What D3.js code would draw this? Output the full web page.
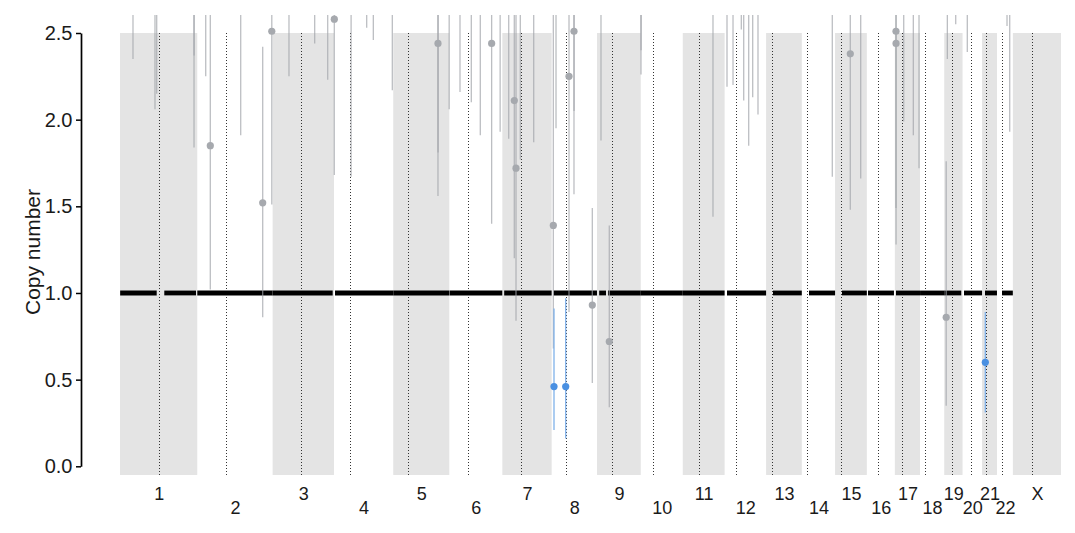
<!DOCTYPE html>
<html>
<head>
<meta charset="utf-8">
<script src="https://cdn.jsdelivr.net/npm/d3@7"></script>
<style>
  html, body { margin: 0; padding: 0; background: #fff; }
  svg { display: block; font-family: "Liberation Sans", Arial, Helvetica, sans-serif; }
</style>
</head>
<body>
<svg id="chart" width="1075" height="533"></svg>
<script>
// ---------- data ----------
const chromNames = ["1","2","3","4","5","6","7","8","9","10","11","12","13","14","15","16","17","18","19","20","21","22","X"];
const chromLengths = [249.25,243.2,198.0,191.15,180.9,171.1,159.1,146.4,141.2,135.5,135.0,133.85,115.2,107.35,102.5,90.35,81.2,78.1,59.1,63.0,48.1,51.3,155.3];
const centromeres = [125.0,93.3,91.0,50.4,48.4,61.0,59.9,45.6,49.0,40.2,53.7,35.8,17.9,17.6,19.0,36.6,24.0,17.2,26.5,27.5,13.2,14.7,60.6];
const yTicks = [0, 0.5, 1.0, 1.5, 2.0, 2.5];

// segments: [chrom, start Mb, end Mb, copy number]
const segments = [
  ["1", 0.5, 118.4, 1.0], ["1", 142.9, 245.2, 1.0],
  ["2", 0.1, 243.2, 1.0], ["3", 0.1, 193.8, 1.0],
  ["4", 3.3, 191.1, 1.0], ["5", 0.1, 180.9, 1.0],
  ["6", 1.0, 171.0, 1.0], ["7", 6.0, 159.1, 1.0],
  ["8", 6.0, 146.3, 1.0], ["9", 7.0, 29.0, 1.0], ["9", 35.4, 141.2, 1.0],
  ["10", 0.1, 135.5, 1.0], ["11", 0.1, 135.0, 1.0],
  ["12", 7.7, 133.85, 1.0], ["13", 22.3, 115.2, 1.0],
  ["14", 23.2, 107.35, 1.0], ["15", 22.4, 102.5, 1.0],
  ["16", 3.7, 87.5, 1.0], ["17", 3.7, 81.2, 1.0], ["18", 0.1, 78.1, 1.0],
  ["19", 0.1, 55.0, 1.0], ["20", 4.7, 63.0, 1.0],
  ["21", 9.5, 48.1, 1.0], ["22", 16.2, 51.2, 1.0]
];

// bins: [chrom, position Mb, copy number, lower, upper, call (0 neutral, 1 loss)]
const bins = [
  ["1", 41.9, 2.91, 2.35, 3.5, 0], ["1", 112.9, 3.05, 2.06, 3.9, 0],
  ["1", 118.4, 2.86, 2.15, 3.6, 0], ["1", 238.8, 3.12, 1.84, 4.0, 0],
  ["1", 239.0, 2.95, 2.37, 3.5, 0],
  ["2", 27.3, 2.98, 2.25, 3.7, 0], ["2", 42.1, 1.85, 1.02, 2.8, 0],
  ["2", 140.2, 2.83, 1.91, 3.8, 0], ["2", 211.2, 1.52, 0.86, 2.42, 0],
  ["2", 240.5, 2.51, 1.51, 3.6, 0],
  ["3", 52.8, 2.88, 2.25, 3.5, 0], ["3", 135.7, 2.79, 2.44, 3.2, 0],
  ["3", 177.7, 2.93, 2.23, 3.6, 0],
  ["4", 1.0, 2.58, 1.68, 3.5, 0], ["4", 55.2, 2.97, 1.67, 4.1, 0],
  ["4", 105.5, 2.75, 2.53, 3.0, 0], ["4", 126.9, 2.81, 2.46, 3.2, 0],
  ["4", 188.2, 3.02, 2.17, 3.9, 0],
  ["5", 144.4, 2.44, 1.56, 3.4, 0], ["5", 144.6, 2.9, 1.81, 3.9, 0],
  ["5", 180.5, 2.96, 2.06, 3.8, 0],
  ["6", 34.5, 2.87, 2.16, 3.6, 0], ["6", 71.0, 2.94, 2.10, 3.7, 0],
  ["6", 100.0, 3.0, 1.91, 4.0, 0], ["6", 136.6, 2.44, 1.40, 3.5, 0],
  ["6", 164.0, 2.99, 1.93, 3.9, 0],
  ["7", 20.6, 2.92, 1.89, 3.9, 0], ["7", 38.6, 2.11, 1.20, 3.1, 0],
  ["7", 44.1, 1.72, 0.84, 2.7, 0], ["7", 58.0, 2.96, 1.77, 4.0, 0],
  ["7", 101.2, 2.93, 1.87, 3.9, 0],
  ["8", 5.4, 1.39, 0.68, 2.8, 0], ["8", 14.1, 2.97, 1.95, 3.9, 0],
  ["8", 56.0, 2.25, 0.89, 3.4, 0], ["8", 72.1, 2.51, 1.57, 3.5, 0],
  ["8", 72.3, 2.9, 2.05, 3.8, 0], ["8", 131.2, 0.93, 0.48, 1.49, 0],
  ["9", 12.8, 2.98, 1.88, 4.0, 0], ["9", 39.6, 0.72, 0.34, 1.39, 0],
  ["10", 0.7, 3.05, 2.26, 3.8, 0], ["10", 0.9, 2.85, 2.40, 3.3, 0],
  ["11", 97.5, 3.1, 1.44, 4.5, 0],
  ["12", 7.7, 2.94, 2.19, 3.7, 0], ["12", 27.1, 2.91, 2.20, 3.6, 0],
  ["12", 53.9, 2.78, 2.52, 3.0, 0], ["12", 61.6, 2.96, 2.11, 3.8, 0],
  ["12", 77.7, 3.08, 1.85, 4.2, 0], ["12", 90.6, 2.9, 2.13, 3.7, 0],
  ["12", 107.7, 2.95, 2.03, 3.8, 0],
  ["14", 98.4, 2.99, 1.67, 4.2, 0],
  ["15", 49.1, 2.38, 1.48, 3.3, 0], ["15", 82.7, 2.97, 1.66, 4.1, 0],
  ["17", 3.7, 2.51, 1.49, 3.5, 0], ["17", 3.9, 2.44, 1.28, 3.6, 0],
  ["17", 28.6, 2.9, 1.99, 3.8, 0], ["17", 59.6, 2.96, 1.91, 3.9, 0],
  ["17", 78.0, 3.0, 1.72, 4.1, 0],
  ["19", 6.4, 0.86, 0.35, 1.76, 0], ["19", 10.1, 2.9, 2.35, 3.4, 0],
  ["19", 37.1, 2.8, 2.55, 3.0, 0],
  ["20", 15.4, 2.93, 2.39, 3.5, 0],
  ["22", 32.4, 2.82, 2.54, 3.1, 0], ["22", 41.1, 3.0, 1.93, 4.0, 0],
  // loss calls
  ["8", 7.6, 0.46, 0.21, 0.91, 1], ["8", 45.4, 0.46, 0.16, 0.97, 1],
  ["21", 10.5, 0.60, 0.31, 0.89, 1]
];

// ---------- layout ----------
const svg = d3.select("#chart");
const offsets = {};
let acc = 0;
chromNames.forEach((c, i) => { offsets[c] = acc; acc += chromLengths[i]; });
const total = acc;
const g = (c, pos) => offsets[c] + pos;

const x = d3.scaleLinear().domain([0, total]).range([120, 1061]);
const y = d3.scaleLinear().domain([0, 2.5]).range([466.3, 33]);
const bandBottom = y(-0.05);

svg.append("defs").append("clipPath").attr("id", "clip")
  .append("rect").attr("x", 100).attr("y", 15).attr("width", 975).attr("height", 470);

const plot = svg.append("g").attr("clip-path", "url(#clip)");

// alternating chromosome bands
plot.append("g").selectAll("rect")
  .data(chromNames.filter((c, i) => i % 2 === 0))
  .join("rect")
  .attr("x", c => x(offsets[c]))
  .attr("width", c => x(offsets[c] + chromLengths[chromNames.indexOf(c)]) - x(offsets[c]))
  .attr("y", y(2.5))
  .attr("height", bandBottom - y(2.5))
  .attr("fill", "#e4e4e4");

// centromere dotted lines
plot.append("g").selectAll("line")
  .data(chromNames)
  .join("line")
  .attr("x1", (c, i) => Math.round(x(g(c, centromeres[i]))) + 0.5)
  .attr("x2", (c, i) => Math.round(x(g(c, centromeres[i]))) + 0.5)
  .attr("y1", y(2.5)).attr("y2", bandBottom)
  .attr("stroke", "#333").attr("stroke-width", 1)
  .attr("stroke-dasharray", "1,2");

// segments
plot.append("g").selectAll("line")
  .data(segments)
  .join("line")
  .attr("x1", d => x(g(d[0], d[1])))
  .attr("x2", d => x(g(d[0], d[2])))
  .attr("y1", d => y(d[3])).attr("y2", d => y(d[3]))
  .attr("stroke", "#000").attr("stroke-width", 4.8);

// error bars
const lineColor = d => d[5] === 1 ? "#7fb1ea" : "#9fa3a8";
plot.append("g").selectAll("line")
  .data(bins)
  .join("line")
  .attr("x1", d => x(g(d[0], d[1])))
  .attr("x2", d => x(g(d[0], d[1])))
  .attr("y1", d => y(d[4])).attr("y2", d => y(d[3]))
  .attr("stroke", lineColor)
  .attr("stroke-opacity", d => d[5] === 1 ? 1 : 0.7)
  .attr("stroke-width", 1.3);

// points
plot.append("g").selectAll("circle")
  .data(bins)
  .join("circle")
  .attr("cx", d => x(g(d[0], d[1])))
  .attr("cy", d => y(d[2]))
  .attr("r", 3.6)
  .attr("fill", d => d[5] === 1 ? "#4a90e2" : "#a6a9ae");

// y axis
const yAxis = svg.append("g")
  .attr("transform", "translate(81,0)")
  .call(d3.axisLeft(y).tickValues(yTicks).tickFormat(d3.format(".1f")).tickSize(5).tickSizeOuter(0).tickPadding(3.5));
yAxis.select(".domain").attr("stroke", "#000").attr("stroke-width", 1.7);
yAxis.selectAll(".tick line").attr("stroke", "#000").attr("stroke-width", 1.5);
yAxis.selectAll(".tick text").attr("font-size", 20).attr("fill", "#1a1a1a")
  .attr("font-family", "'Liberation Sans', Arial, sans-serif");

// x axis labels (alternating rows)
const mids = chromNames.map((c, i) => offsets[c] + chromLengths[i] / 2);
const xAxis = svg.append("g")
  .attr("transform", "translate(0,480)")
  .call(d3.axisBottom(x).tickValues(mids).tickFormat((d, i) => chromNames[i]).tickSize(0));
xAxis.select(".domain").remove();
xAxis.selectAll(".tick text")
  .attr("font-size", 18).attr("fill", "#1a1a1a")
  .attr("font-family", "'Liberation Sans', Arial, sans-serif")
  .attr("dy", null)
  .attr("y", (d, i) => i % 2 === 0 ? 19.5 : 33.5);

// y axis title
svg.append("text")
  .attr("transform", "translate(39.5,252) rotate(-90)")
  .attr("text-anchor", "middle")
  .attr("font-size", 21)
  .attr("fill", "#1a1a1a")
  .text("Copy number");
</script>
</body>
</html>
